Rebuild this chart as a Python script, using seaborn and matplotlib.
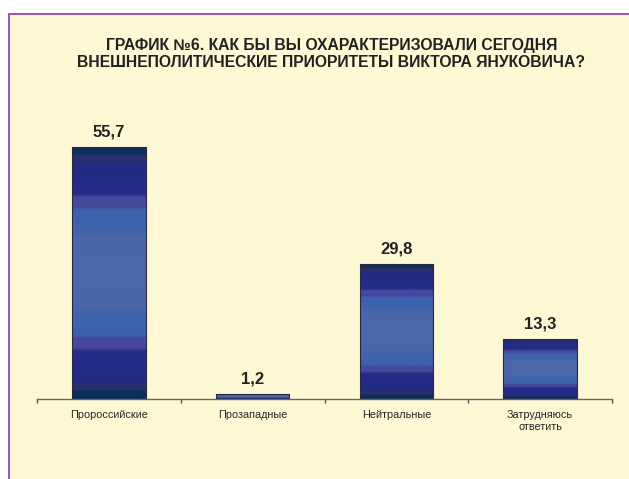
import numpy as np
import pandas as pd
import matplotlib
matplotlib.use('Agg')
import matplotlib.pyplot as plt
import seaborn as sns
from matplotlib.colors import LinearSegmentedColormap
from matplotlib.patches import Rectangle

categories = ['Пророссийские', 'Прозападные', 'Нейтральные', 'Затрудняюсь\nответить']
values = [55.7, 1.2, 29.8, 13.3]
value_labels = ['55,7', '1,2', '29,8', '13,3']
title = ('ГРАФИК №6. КАК БЫ ВЫ ОХАРАКТЕРИЗОВАЛИ СЕГОДНЯ\n'
         'ВНЕШНЕПОЛИТИЧЕСКИЕ ПРИОРИТЕТЫ ВИКТОРА ЯНУКОВИЧА?')

cream = '#fef8d5'
purple = '#a458b4'

# bands of the bar fill, top half (mirrored below)
half = [(0.00, '#0c2f5c'), (0.03, '#0c2f5c'), (0.035, '#2b2f6c'), (0.06, '#2b2f6c'),
        (0.065, '#222a82'), (0.19, '#272d88'), (0.20, '#46489c'), (0.24, '#46489c'),
        (0.25, '#3c62ae'), (0.33, '#3f64ac'), (0.36, '#4866a8'), (0.50, '#4a68aa')]
stops = half + [(1 - p, c) for p, c in reversed(half[:-1])]
bar_cmap = LinearSegmentedColormap.from_list('bars', stops)

sns.set_theme(style='white')
plt.rcParams['font.family'] = ['Liberation Sans', 'DejaVu Sans']

df = pd.DataFrame({'cat': categories, 'val': values})

fig = plt.figure(figsize=(6.29, 4.79), dpi=100, facecolor='white')
fig.patches.append(Rectangle((9 / 629, 0), 1, 1 - 14 / 479, transform=fig.transFigure,
                             facecolor=cream, edgecolor='none', zorder=-2))
fig.patches.append(Rectangle((8 / 629, 1 - 15 / 479), 1, 2 / 479, transform=fig.transFigure,
                             facecolor=purple, edgecolor='none', zorder=-1))
fig.patches.append(Rectangle((8 / 629, 0), 2 / 629, 1 - 13 / 479, transform=fig.transFigure,
                             facecolor=purple, edgecolor='none', zorder=-1))

ax = fig.add_axes([37 / 629, 80 / 479, 575 / 629, 281 / 479])
ax.set_zorder(2)
ax.set_facecolor('none')
sns.barplot(data=df, x='cat', y='val', ax=ax, width=0.51, color='#3f64ac',
            edgecolor='#2a2a3a', linewidth=0.8)

grad = np.linspace(0, 1, 256).reshape(-1, 1)
for bar in ax.patches:
    x0, y0 = bar.get_x(), bar.get_y()
    w, h = bar.get_width(), bar.get_height()
    im = ax.imshow(grad, cmap=bar_cmap, aspect='auto', origin='upper',
                   extent=[x0, x0 + w, y0, y0 + h], zorder=2, interpolation='bilinear')
    im.set_clip_path(bar)
    bar.set_facecolor('none')
    bar.set_zorder(3)

for i, (v, lab) in enumerate(zip(values, value_labels)):
    ax.annotate(lab, (i, v), xytext=(0, 5), textcoords='offset points',
                ha='center', va='bottom', fontsize=12, fontweight='bold', color='#222222')

ax.set_xlim(-0.5, 3.5)
ax.set_ylim(0, 62)
ax.set_xlabel('')
ax.set_ylabel('')
ax.set_yticks([])
for s in ['left', 'right', 'top']:
    ax.spines[s].set_visible(False)
ax.spines['bottom'].set_color('#666666')
ax.spines['bottom'].set_linewidth(1.0)
ax.set_xticks(np.arange(-0.5, 4, 1), minor=True)
ax.tick_params(axis='x', which='minor', length=3, width=1, color='#555555', direction='out', bottom=True)
ax.tick_params(axis='x', which='major', length=0, pad=8, labelsize=7.8, labelcolor='#262626')

fig.text(0.527, 1 - 54 / 479, title, ha='center', va='center', fontsize=11.3,
         fontweight='bold', color='#222222', linespacing=1.2)

fig.savefig('out.png', dpi=100, facecolor='white')
